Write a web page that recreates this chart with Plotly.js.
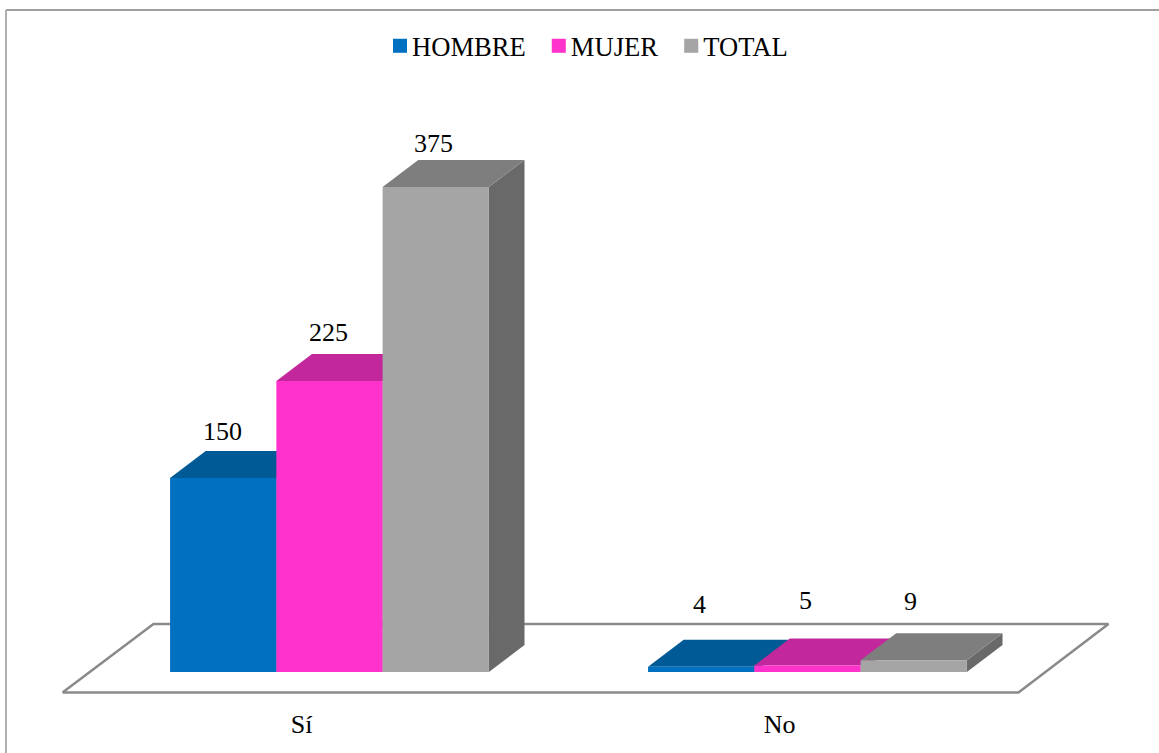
<!DOCTYPE html>
<html>
<head>
<meta charset="utf-8">
<script src="https://cdn.plot.ly/plotly-3.0.1.min.js"></script>
<style>html,body{margin:0;padding:0;background:#fff;overflow:hidden}#chart{width:1159px;height:753px}</style>
</head>
<body>
<div id="chart"></div>
<script>
// ---- data ----
const categories = ['Sí', 'No'];
const seriesNames = ['HOMBRE', 'MUJER', 'TOTAL'];
const hombre = [150, 4];
const mujer = [225, 5];
const total = [375, 9];

// ---- styles ----
const frontColors = ['#0070C0', '#FF33CC', '#A5A5A5'];
const topColors = ['#005A95', '#C2289B', '#7E7E7E'];
const sideColors = ['#004A7C', '#A02080', '#696969'];
const labelFont = {family: '"Liberation Serif", "Times New Roman", serif', size: 26, color: '#000000'};
const legendFont = {family: '"Liberation Serif", "Times New Roman", serif', size: 26.6, color: '#000000'};

// ---- scales of the pseudo-3D plot (axis units) ----
const values = [hombre, mujer, total];
const catPositions = categories.map((_, i) => i);
const xRange = [-0.6893, 1.7354];
const yRange = [-21.65, 519.6];
const bargap = 0.333;
const barW = (1 - bargap) / seriesNames.length;
const depthX = 0.0745;     // receding depth of a bar along x
const depthY = 20.9;       // receding depth of a bar along y
const tickShift = -0.0585; // category labels sit under the floor's front edge
const floorX = [-0.5585, 1.4414, 1.6297, -0.3682, -0.5585];
const floorY = [-15.9, -15.9, 37.1, 37.1, -15.9];
// label nudges in pixels, per series then per category
const labelShiftY = [[47, 62], [49, 65], [44, 59]];
const labelShiftX = [[-1, -2], [-1, -2], [-2, -3]];

const traces = [];

// floor
traces.push({type: 'scatter', mode: 'lines', x: floorX, y: floorY, xaxis: 'x', yaxis: 'y',
  line: {color: '#8A8A8A', width: 2.5}, fill: 'toself', fillcolor: '#FFFFFF',
  showlegend: false, hoverinfo: 'skip'});

// side and top faces, derived from values, under the front faces
seriesNames.forEach((name, s) => {
  catPositions.forEach((c, i) => {
    const v = values[s][i];
    const x0 = c - 1.5 * barW + s * barW, x1 = x0 + barW;
    traces.push({type: 'scatter', mode: 'lines', xaxis: 'x', yaxis: 'y',
      x: [x1, x1 + depthX, x1 + depthX, x1, x1], y: [0, depthY, v + depthY, v, 0],
      fill: 'toself', fillcolor: sideColors[s], line: {width: 0, color: sideColors[s]},
      showlegend: false, hoverinfo: 'skip'});
    traces.push({type: 'scatter', mode: 'lines', xaxis: 'x', yaxis: 'y',
      x: [x0, x1, x1 + depthX, x0 + depthX, x0], y: [v, v, v + depthY, v + depthY, v],
      fill: 'toself', fillcolor: topColors[s], line: {width: 0, color: topColors[s]},
      showlegend: false, hoverinfo: 'skip'});
  });
});

// front faces: real bars on an overlaying pair of axes
seriesNames.forEach((name, s) => {
  traces.push({type: 'bar', name: name, x: catPositions, y: values[s], xaxis: 'x2', yaxis: 'y2',
    marker: {color: frontColors[s], line: {width: 0}}, hoverinfo: 'name+y'});
});

// data labels
const annotations = [];
seriesNames.forEach((name, s) => {
  catPositions.forEach((c, i) => {
    annotations.push({x: c - 1.5 * barW + (s + 0.5) * barW, y: values[s][i], xref: 'x', yref: 'y',
      text: String(values[s][i]), showarrow: false, font: labelFont,
      xanchor: 'center', yanchor: 'middle',
      xshift: labelShiftX[s][i], yshift: labelShiftY[s][i]});
  });
});

const layout = {
  width: 1159, height: 753,
  margin: {l: 0, r: 0, t: 0, b: 53, pad: 0},
  paper_bgcolor: '#FFFFFF', plot_bgcolor: 'rgba(0,0,0,0)',
  barmode: 'group', bargap: bargap, bargroupgap: 0,
  showlegend: true,
  legend: {orientation: 'h', xanchor: 'left', x: 372 / 1159, yanchor: 'middle', y: 1 - 46 / 700,
    font: legendFont, bgcolor: 'rgba(0,0,0,0)', traceorder: 'normal'},
  xaxis: {range: xRange, tickmode: 'array', tickvals: catPositions.map(c => c + tickShift), ticktext: categories,
    showgrid: false, zeroline: false, showline: false, ticks: 'outside', ticklen: 1, tickcolor: 'rgba(0,0,0,0)',
    tickfont: labelFont, fixedrange: true},
  yaxis: {range: yRange, visible: false, fixedrange: true},
  xaxis2: {range: xRange, overlaying: 'x', visible: false, fixedrange: true},
  yaxis2: {range: yRange, overlaying: 'y', visible: false, fixedrange: true},
  annotations: annotations,
  shapes: [
    {type: 'line', xref: 'paper', yref: 'paper', x0: 6 / 1159, x1: 1, y0: 1 - 10 / 700, y1: 1 - 10 / 700,
      line: {color: '#A0A0A0', width: 2}},
    {type: 'line', xref: 'paper', yref: 'paper', x0: 6 / 1159, x1: 6 / 1159, y0: 1 - 10 / 700, y1: -53 / 700,
      line: {color: '#B0B0B0', width: 2}}
  ]
};

Plotly.newPlot('chart', traces, layout, {displayModeBar: false, staticPlot: true}).then(() => {
  // the reference's legend swatches are a little larger and sit next to their text
  document.querySelectorAll('.legend .legendpoints path').forEach(p => {
    p.setAttribute('transform', 'translate(28,0) scale(1.17)');
  });
});
</script>
</body>
</html>
